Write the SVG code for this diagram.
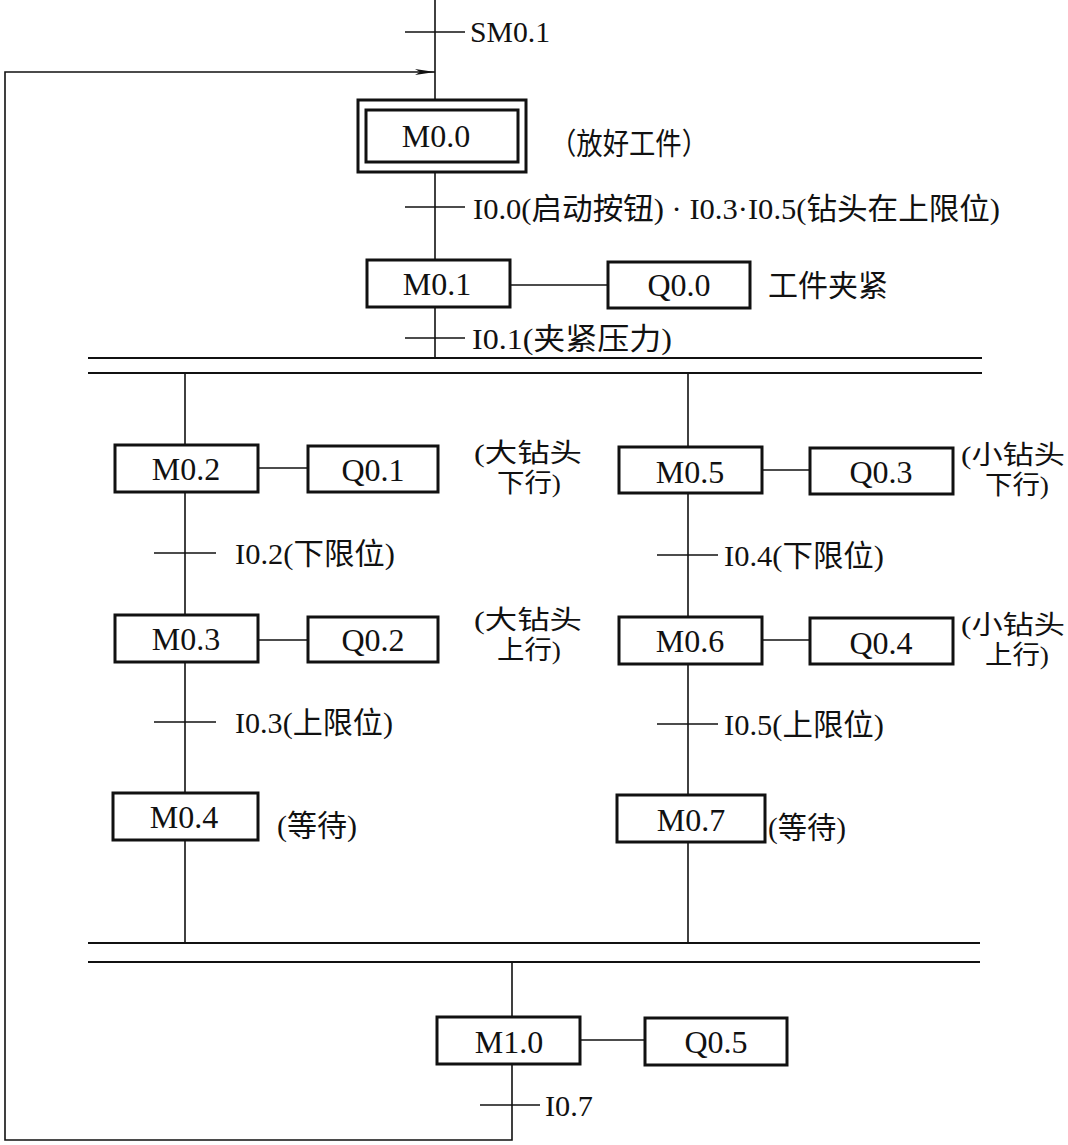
<svg xmlns="http://www.w3.org/2000/svg" width="1068" height="1145" viewBox="0 0 1068 1145">
<style>
.box{fill:#fff;stroke:#111;stroke-width:3}
.ln{stroke:#111;stroke-width:1.6;fill:none}
.bar{stroke:#111;stroke-width:2.2}
.t{font-family:"Liberation Serif","Noto Sans CJK SC",serif;font-size:30px;fill:#111;dominant-baseline:central}
.m{font-family:"Liberation Serif","Noto Sans CJK SC",serif;font-size:26px;fill:#111;dominant-baseline:central}
.b{font-family:"Liberation Serif","Noto Sans CJK SC",serif;font-size:32px;fill:#111;dominant-baseline:central;text-anchor:middle}
</style>
<defs>
<marker id="arr" markerWidth="20" markerHeight="8" refX="20" refY="4" orient="auto" markerUnits="userSpaceOnUse">
<path d="M0,1 L20,4 L0,7 L5,4 Z" fill="#111"/>
</marker>
</defs>
<rect width="1068" height="1145" fill="#fff"/>
<g id="connectors">
<line class="ln" x1="435" y1="0" x2="435" y2="358"/>
<polyline class="ln" points="512,962 512,1140 5,1140 5,72 435,72" marker-end="url(#arr)"/>
<line class="ln" x1="405" y1="32" x2="465" y2="32"/>
<line class="ln" x1="405" y1="207" x2="465" y2="207"/>
<line class="ln" x1="405" y1="338" x2="465" y2="338"/>
<line class="ln" x1="510" y1="285" x2="608" y2="285"/>
<line class="bar" x1="88" y1="358" x2="982" y2="358"/>
<line class="bar" x1="88" y1="373" x2="982" y2="373"/>
<line class="ln" x1="185" y1="373" x2="185" y2="943"/>
<line class="ln" x1="688" y1="373" x2="688" y2="943"/>
<line class="ln" x1="258" y1="468" x2="308" y2="468"/>
<line class="ln" x1="258" y1="640" x2="308" y2="640"/>
<line class="ln" x1="762" y1="470" x2="810" y2="470"/>
<line class="ln" x1="762" y1="640" x2="810" y2="640"/>
<line class="ln" x1="154" y1="553" x2="216" y2="553"/>
<line class="ln" x1="154" y1="722" x2="216" y2="722"/>
<line class="ln" x1="657" y1="555" x2="718" y2="555"/>
<line class="ln" x1="657" y1="724" x2="718" y2="724"/>
<line class="bar" x1="88" y1="943" x2="980" y2="943"/>
<line class="bar" x1="88" y1="962" x2="980" y2="962"/>
<line class="ln" x1="580" y1="1040" x2="645" y2="1040"/>
<line class="ln" x1="480" y1="1105" x2="540" y2="1105"/>
</g>
<g id="labels">
<text class="t" x="470" y="31" font-size="32" textLength="80" lengthAdjust="spacingAndGlyphs">SM0.1</text>
<text class="t" x="473" y="208" textLength="527" lengthAdjust="spacingAndGlyphs">I0.0(启动按钮) · I0.3·I0.5(钻头在上限位)</text>
<text class="t" x="472" y="338" textLength="200" lengthAdjust="spacingAndGlyphs">I0.1(夹紧压力)</text>
<text class="t" x="235" y="553" textLength="160" lengthAdjust="spacingAndGlyphs">I0.2(下限位)</text>
<text class="t" x="235" y="722" textLength="158" lengthAdjust="spacingAndGlyphs">I0.3(上限位)</text>
<text class="t" x="724" y="555" textLength="160" lengthAdjust="spacingAndGlyphs">I0.4(下限位)</text>
<text class="t" x="724" y="724" textLength="160" lengthAdjust="spacingAndGlyphs">I0.5(上限位)</text>
<text class="t" x="545" y="1105" textLength="48" lengthAdjust="spacingAndGlyphs">I0.7</text>
</g>
<g id="M0.0">
<rect class="box" x="358" y="100" width="168" height="72"/>
<rect class="box" x="366" y="110" width="152" height="52"/>
<text class="b" x="436" y="136">M0.0</text>
<text class="t" x="550" y="143" textLength="158" lengthAdjust="spacingAndGlyphs">（放好工件）</text>
</g>
<g id="M0.1"><rect class="box" x="367" y="260" width="143" height="47"/><text class="b" x="437" y="284">M0.1</text></g>
<g id="Q0.0"><rect class="box" x="608" y="262" width="142" height="46"/><text class="b" x="679" y="285">Q0.0</text>
<text class="t" x="768" y="285" textLength="120" lengthAdjust="spacingAndGlyphs">工件夹紧</text></g>
<g id="M0.2"><rect class="box" x="115" y="445" width="143" height="47"/><text class="b" x="186" y="469">M0.2</text></g>
<g id="Q0.1"><rect class="box" x="308" y="446" width="130" height="46"/><text class="b" x="373" y="470">Q0.1</text>
<text class="m" x="474" y="453" textLength="108" lengthAdjust="spacingAndGlyphs">(大钻头</text><text class="m" x="497" y="483" textLength="64" lengthAdjust="spacingAndGlyphs">下行)</text></g>
<g id="M0.3"><rect class="box" x="115" y="615" width="143" height="47"/><text class="b" x="186" y="639">M0.3</text></g>
<g id="Q0.2"><rect class="box" x="308" y="617" width="130" height="45"/><text class="b" x="373" y="640">Q0.2</text>
<text class="m" x="474" y="620" textLength="108" lengthAdjust="spacingAndGlyphs">(大钻头</text><text class="m" x="497" y="650" textLength="64" lengthAdjust="spacingAndGlyphs">上行)</text></g>
<g id="M0.4"><rect class="box" x="113" y="793" width="145" height="47"/><text class="b" x="184" y="817">M0.4</text>
<text class="t" x="277" y="825" textLength="80" lengthAdjust="spacingAndGlyphs">(等待)</text></g>
<g id="M0.5"><rect class="box" x="619" y="447" width="143" height="46"/><text class="b" x="690" y="472">M0.5</text></g>
<g id="Q0.3"><rect class="box" x="810" y="448" width="143" height="46"/><text class="b" x="881" y="472">Q0.3</text>
<text class="m" x="961" y="455" textLength="104" lengthAdjust="spacingAndGlyphs">(小钻头</text><text class="m" x="985" y="485" textLength="64" lengthAdjust="spacingAndGlyphs">下行)</text></g>
<g id="M0.6"><rect class="box" x="619" y="617" width="143" height="47"/><text class="b" x="690" y="641">M0.6</text></g>
<g id="Q0.4"><rect class="box" x="810" y="618" width="143" height="46"/><text class="b" x="881" y="643">Q0.4</text>
<text class="m" x="961" y="625" textLength="104" lengthAdjust="spacingAndGlyphs">(小钻头</text><text class="m" x="985" y="655" textLength="64" lengthAdjust="spacingAndGlyphs">上行)</text></g>
<g id="M0.7"><rect class="box" x="617" y="795" width="148" height="47"/><text class="b" x="691" y="820">M0.7</text>
<text class="t" x="768" y="827" textLength="78" lengthAdjust="spacingAndGlyphs">(等待)</text></g>
<g id="M1.0"><rect class="box" x="437" y="1017" width="143" height="47"/><text class="b" x="509" y="1042">M1.0</text></g>
<g id="Q0.5"><rect class="box" x="645" y="1018" width="142" height="47"/><text class="b" x="716" y="1042">Q0.5</text></g>
</svg>
